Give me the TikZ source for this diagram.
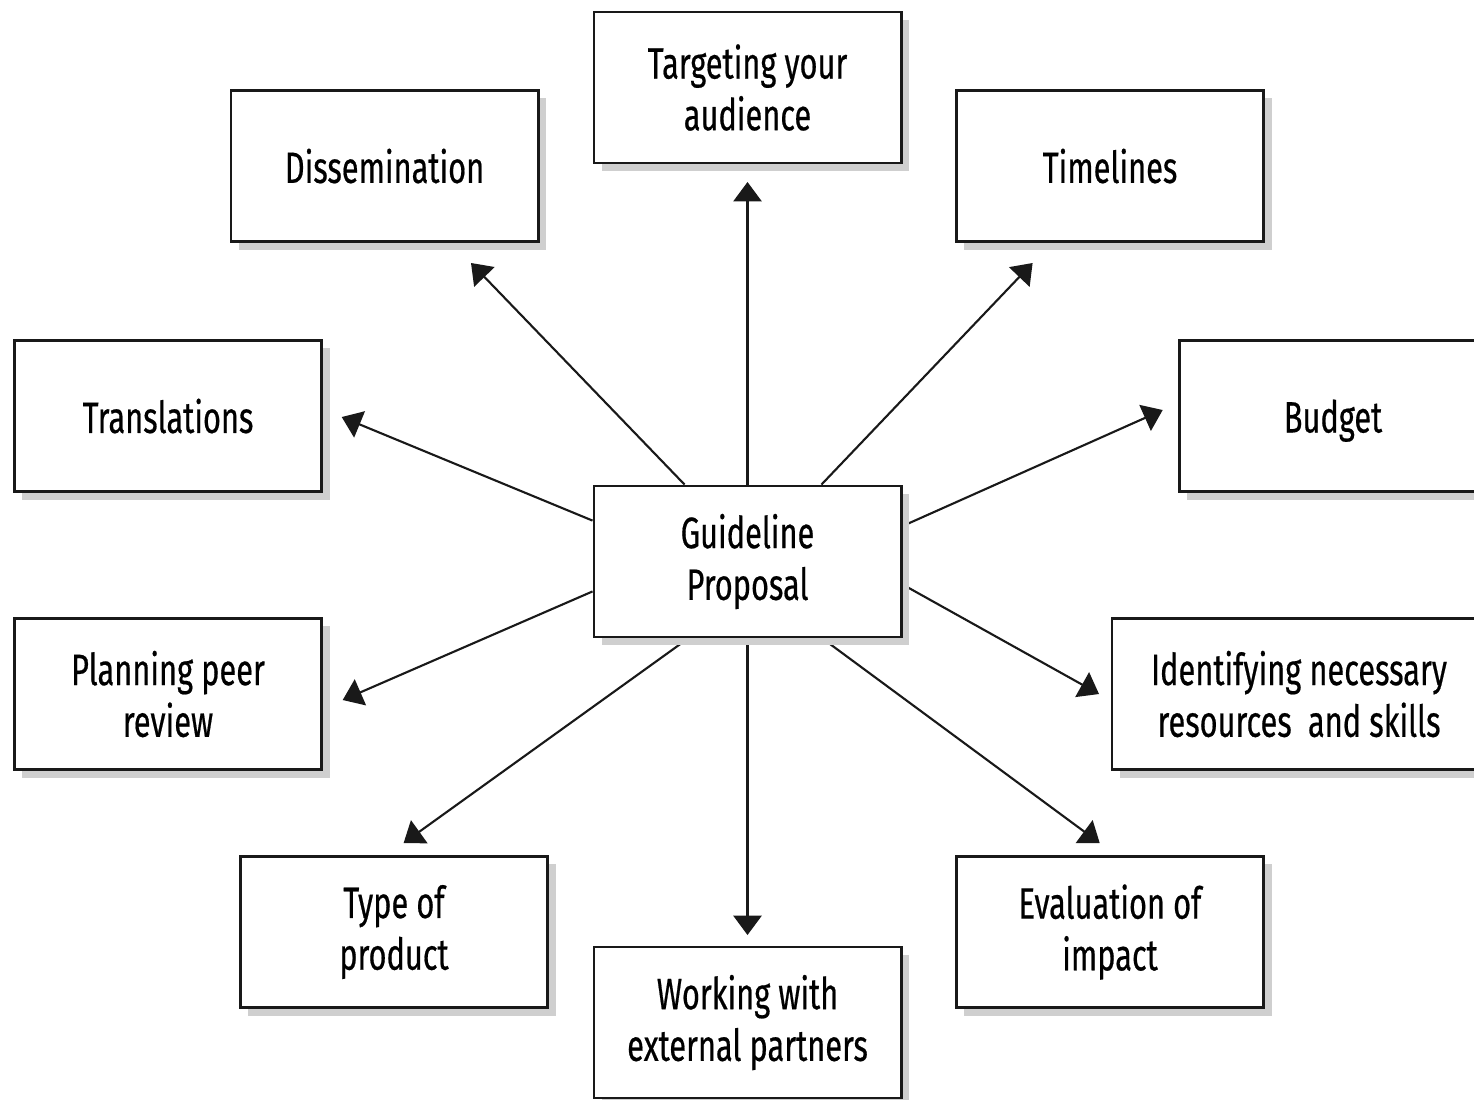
\documentclass[tikz,border=0pt]{standalone}
\usepackage{fontspec}
\setmainfont{Fira Sans}[FakeStretch=0.7]
\newfontfamily\boxfont{Fira Sans}[FakeStretch=0.7, FakeBold=0.45]
\usetikzlibrary{arrows.meta,shadows,calc}
\pgfdeclarelayer{bg}
\pgfsetlayers{bg,main}

\tikzset{
  topic/.style={draw=black!90, line width=0.8pt, fill=white,
    minimum width=3.07cm, minimum height=1.51cm, inner sep=0pt,
    align=center, font=\boxfont\fontsize{12.5pt}{14.7pt}\selectfont,
    drop shadow={shadow xshift=0.08cm, shadow yshift=-0.08cm,
      fill=black!19, opacity=1}},
  link/.style={draw=black!90, line width=0.6pt,
    -{Triangle[length=5.5pt,width=8pt]}},
}

\begin{document}
\begin{tikzpicture}[x=0.01cm, y=-0.01cm]
  \clip (0,0) rectangle (1474,1099);

  % topic boxes
  \node[topic] (G)  at (747.5,561.5) {Guideline\\Proposal};
  \node[topic] (T)  at (747.5,87.5)  {Targeting your\\audience};
  \node[topic] (D)  at (384.5,166)   {Dissemination};
  \node[topic] (Tl) at (1110,166)    {Timelines};
  \node[topic] (Tr) at (168,416)     {Translations};
  \node[topic, text depth=0pt] (B) at (1333,416) {Budget};
  \node[topic] (P)  at (168,694)     {Planning peer\\review};
  \node[topic, minimum width=3.74cm] (I) at (1299,694)
        {Identifying necessary\\resources\ \ and skills};
  \node[topic] (Ty) at (394,932)     {Type of\\product};
  \node[topic] (W)  at (747.5,1022.5){Working with\\external partners};
  \node[topic] (E)  at (1110,932)    {Evaluation of\\impact};

  % arrow tips, just short of each box
  \coordinate (tT)  at (747.5,182);
  \coordinate (tD)  at (471,263);
  \coordinate (tTl) at (1032.6,263);
  \coordinate (tTr) at (341.7,417);
  \coordinate (tB)  at (1162.7,410);
  \coordinate (tP)  at (342.7,700);
  \coordinate (tI)  at (1099,694);
  \coordinate (tTy) at (403.6,843);
  \coordinate (tW)  at (747.5,935);
  \coordinate (tE)  at (1099.7,843);

  % connectors leave the central box and run under the shadows
  \begin{pgfonlayer}{bg}
    \draw[link] (G.north) -- (tT);
    \draw[link] ([xshift=0.92cm]G.north west) -- (tD);
    \draw[link] ([xshift=-0.81cm]G.north east) -- (tTl);
    \draw[link] ([yshift=-0.36cm]G.north west) -- (tTr);
    \draw[link] ([yshift=-0.415cm]G.north east) -- (tB);
    \draw[link] ([yshift=0.47cm]G.south west) -- (tP);
    \draw[link] ([yshift=0.54cm]G.south east) -- (tI);
    \draw[link] ([xshift=0.955cm]G.south west) -- (tTy);
    \draw[link] (G.south) -- (tW);
    \draw[link] ([xshift=-0.80cm]G.south east) -- (tE);
  \end{pgfonlayer}
\end{tikzpicture}
\end{document}
